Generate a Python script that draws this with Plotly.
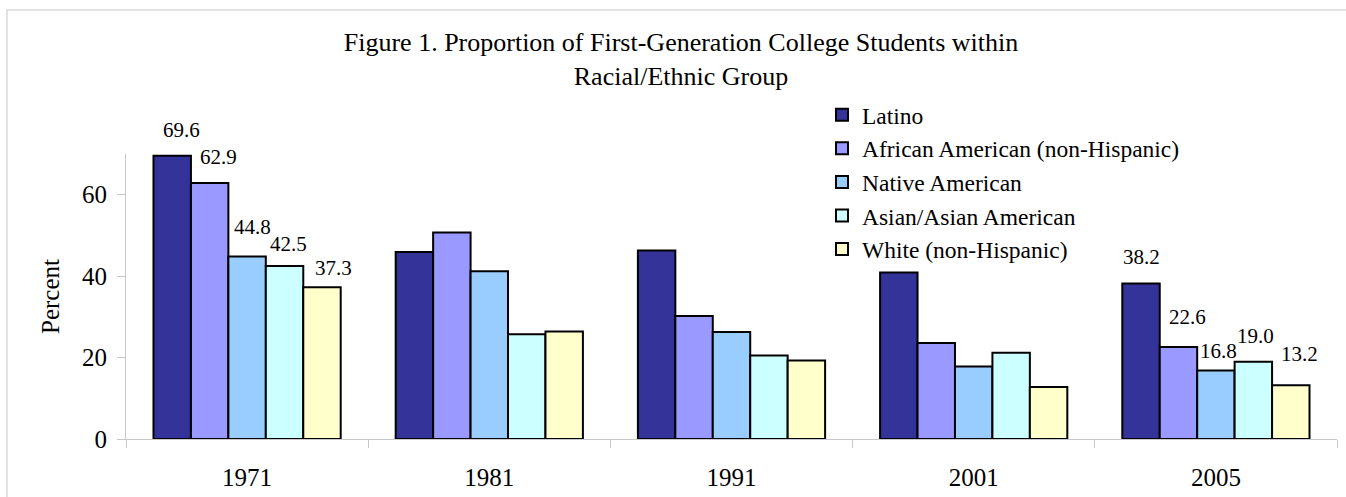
import plotly.graph_objects as go

years = ["1971", "1981", "1991", "2001", "2005"]
series_names = ["Latino", "African American (non-Hispanic)", "Native American",
                "Asian/Asian American", "White (non-Hispanic)"]
latino = [69.6, 45.9, 46.3, 40.9, 38.2]
african_american = [62.9, 50.7, 30.2, 23.6, 22.6]
native_american = [44.8, 41.2, 26.3, 17.8, 16.8]
asian_american = [42.5, 25.7, 20.5, 21.2, 19.0]
white = [37.3, 26.4, 19.3, 12.8, 13.2]
y_ticks = [0, 20, 40, 60]
labeled_years = ["1971", "2005"]

all_values = [latino, african_american, native_american, asian_american, white]
colors = ["#333399", "#9999FF", "#99CCFF", "#CCFFFF", "#FFFFCC"]

# label placement tweaks (pixels): per labeled year, per series
label_dx = {"1971": [9, 9, 5, 4, 12], "2005": [0, 9, 3, 2, 9]}
label_gap = {"1971": [18, 18, 22, 14, 11], "2005": [18, 22, 12, 18, 23]}

W, H = 1346, 497
ML, MR, MT, MB = 126, 9, 154, 58
BARGAP = 0.227
FONT = "Liberation Serif, Times New Roman, serif"

fig = go.Figure()
for name, vals, col in zip(series_names, all_values, colors):
    fig.add_trace(go.Bar(
        x=years, y=vals, name=name,
        marker=dict(color=col, line=dict(color="black", width=2)),
    ))

plot_w = W - ML - MR
plot_h = H - MT - MB
bar_w = plot_w / len(years) * (1 - BARGAP) / len(series_names)
annotations = []
for yr in labeled_years:
    j = years.index(yr)
    for i, vals in enumerate(all_values):
        annotations.append(dict(
            x=j, y=vals[j], xref="x", yref="y",
            text=f"{vals[j]:.1f}", showarrow=False,
            xanchor="center", yanchor="bottom",
            xshift=(i - 2) * bar_w + label_dx[yr][i],
            yshift=label_gap[yr][i] - 6,
            font=dict(family=FONT, size=21, color="black"),
        ))

fig.update_layout(
    width=W, height=H,
    margin=dict(l=ML, r=MR, t=MT, b=MB, autoexpand=False),
    paper_bgcolor="white", plot_bgcolor="white",
    barmode="group", bargap=BARGAP, bargroupgap=0,
    font=dict(family=FONT, color="black"),
    title=dict(
        text="Figure 1. Proportion of First-Generation College Students within<br>Racial/Ethnic Group",
        font=dict(family=FONT, size=26, color="black"),
        x=681 / W, xref="container", xanchor="center",
        y=1 - 51 / H, yref="container", yanchor="top",
    ),
    legend=dict(
        x=(822 - ML) / plot_w, y=(H - MB - 93) / plot_h,
        xanchor="left", yanchor="top",
        font=dict(family=FONT, size=23.5, color="black"),
        bgcolor="rgba(0,0,0,0)", tracegroupgap=0,
    ),
    annotations=annotations,
    shapes=[dict(type="rect", xref="paper", yref="paper",
                 x0=(7 - ML) / plot_w, x1=1.2,
                 y0=-0.5, y1=(H - MB - 10) / plot_h,
                 line=dict(color="#d9d9d9", width=1.5), layer="below")],
    xaxis=dict(
        type="category", range=[-0.5, len(years) - 0.5], automargin=False,
        showgrid=False, zeroline=False,
        showline=True, linecolor="#c8c8c8", linewidth=1,
        ticks="outside", tickson="boundaries", ticklen=8, tickcolor="#c8c8c8",
        tickfont=dict(family=FONT, size=25, color="black"), tickangle=0,
        ticklabelstandoff=16,
    ),
    yaxis=dict(
        range=[0, 70], tickvals=y_ticks, automargin=False,
        showgrid=False, zeroline=False,
        showline=True, linecolor="#c8c8c8", linewidth=1,
        ticks="outside", ticklen=8, tickcolor="#c8c8c8",
        tickfont=dict(family=FONT, size=25, color="black"),
        ticklabelstandoff=5,
        title=dict(text="Percent", font=dict(family=FONT, size=25, color="black"),
                   standoff=15),
    ),
)

fig.write_html("out.html", config={"displayModeBar": False},
               post_script="document.body.style.margin='0';")
